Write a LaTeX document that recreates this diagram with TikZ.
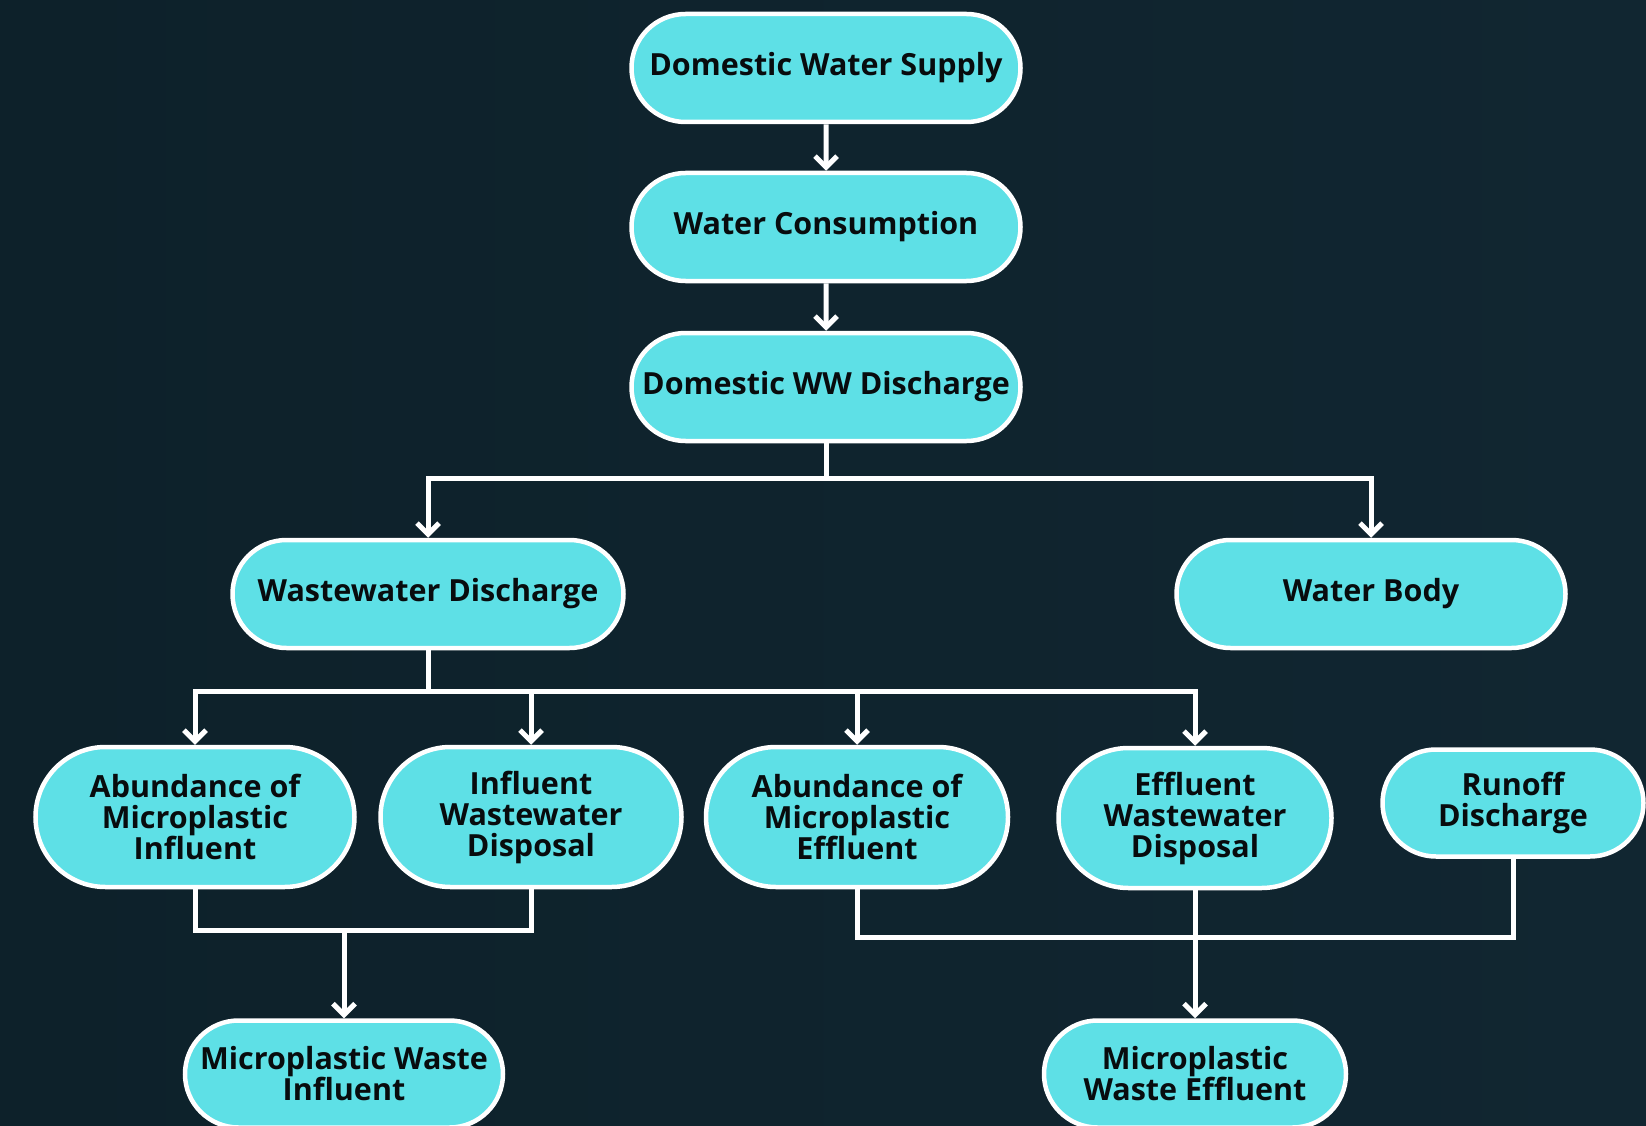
\documentclass[tikz,border=0pt]{standalone}
\usepackage{fontspec}
\setmainfont{Open Sans}
\usetikzlibrary{arrows.meta,positioning,calc,shapes.misc}
\definecolor{bgdark}{RGB}{13,33,42}
\definecolor{bgmid}{RGB}{27,42,51}
\definecolor{bgright}{RGB}{17,38,49}
\definecolor{boxfill}{RGB}{94,224,230}
\definecolor{txtdark}{RGB}{8,12,14}

\begin{document}
\begin{tikzpicture}[
  x=1pt, y=-1pt, >={Straight Barb[length=11pt,width=22pt]},
  b/.style={rounded rectangle, draw=white, line width=4.5pt, fill=boxfill,
            text=txtdark, align=center, inner sep=2pt,
            font=\fontsize{30.5}{31}\selectfont\bfseries},
  wide/.style={b, minimum width=393pt, minimum height=108pt},
  tall/.style={b, minimum height=140pt},
  low/.style={b, minimum height=107pt},
  link/.style={draw=white, line width=5pt}]
% background
\useasboundingbox (0,0) rectangle (1646,1126);
\shade[left color=bgdark, middle color=bgmid, right color=bgright] (0,0) rectangle (1646,1126);
% main chain
\node[wide] (dws) at (826,68) {Domestic Water Supply};
\node[wide] (wc) at (826,227) {Water Consumption};
\node[wide] (dwwd) at (826,387) {Domestic WW Discharge};
\node[wide, minimum width=395pt] (wwd) at (428,594) {Wastewater Discharge};
\node[wide] (wb) at (1371,594) {Water Body};
% fourth row
\node[tall, minimum width=323pt] (ami) at (195,817) {Abundance of\\Microplastic\\Influent};
\node[tall, minimum width=305pt] (iwd) at (531,817) {Influent\\Wastewater\\Disposal};
\node[tall, minimum width=306pt] (ame) at (857,817) {Abundance of\\Microplastic\\Effluent};
\node[tall, minimum width=277pt] (ewd) at (1195,818) {Effluent\\Wastewater\\Disposal};
\node[low, minimum width=265pt] (rd) at (1513,803) {Runoff\\Discharge};
% bottom row
\node[low, minimum width=322pt] (mwi) at (344,1074) {Microplastic Waste\\Influent};
\node[low, minimum width=306pt] (mwe) at (1195,1074) {Microplastic\\Waste Effluent};
% junctions
\coordinate (j1) at (826,478);
\coordinate (j2) at (428,691);
\coordinate (jl) at (344,930);
\coordinate (jr) at (1195,937);
% connectors
\draw[link,->] (dws) -- (wc);
\draw[link,->] (wc) -- (dwwd);
\draw[link] (dwwd.south) -- (j1);
\draw[link,->] (j1) -| (wwd.north);
\draw[link,->] (j1) -| (wb.north);
\draw[link] (wwd.south) -- (j2);
\draw[link,->] (j2) -| (ami.north);
\draw[link,->] (j2) -| (iwd.north);
\draw[link,->] (j2) -| (ame.north);
\draw[link,->] (j2) -| (ewd.north);
\draw[link] (ami.south) |- (jl) -| (iwd.south);
\draw[link,->] (jl) -- (mwi.north);
\draw[link] (ame.south) |- (jr) -| (rd.south);
\draw[link,->] (ewd.south) -- (mwe.north);
\end{tikzpicture}
\end{document}
